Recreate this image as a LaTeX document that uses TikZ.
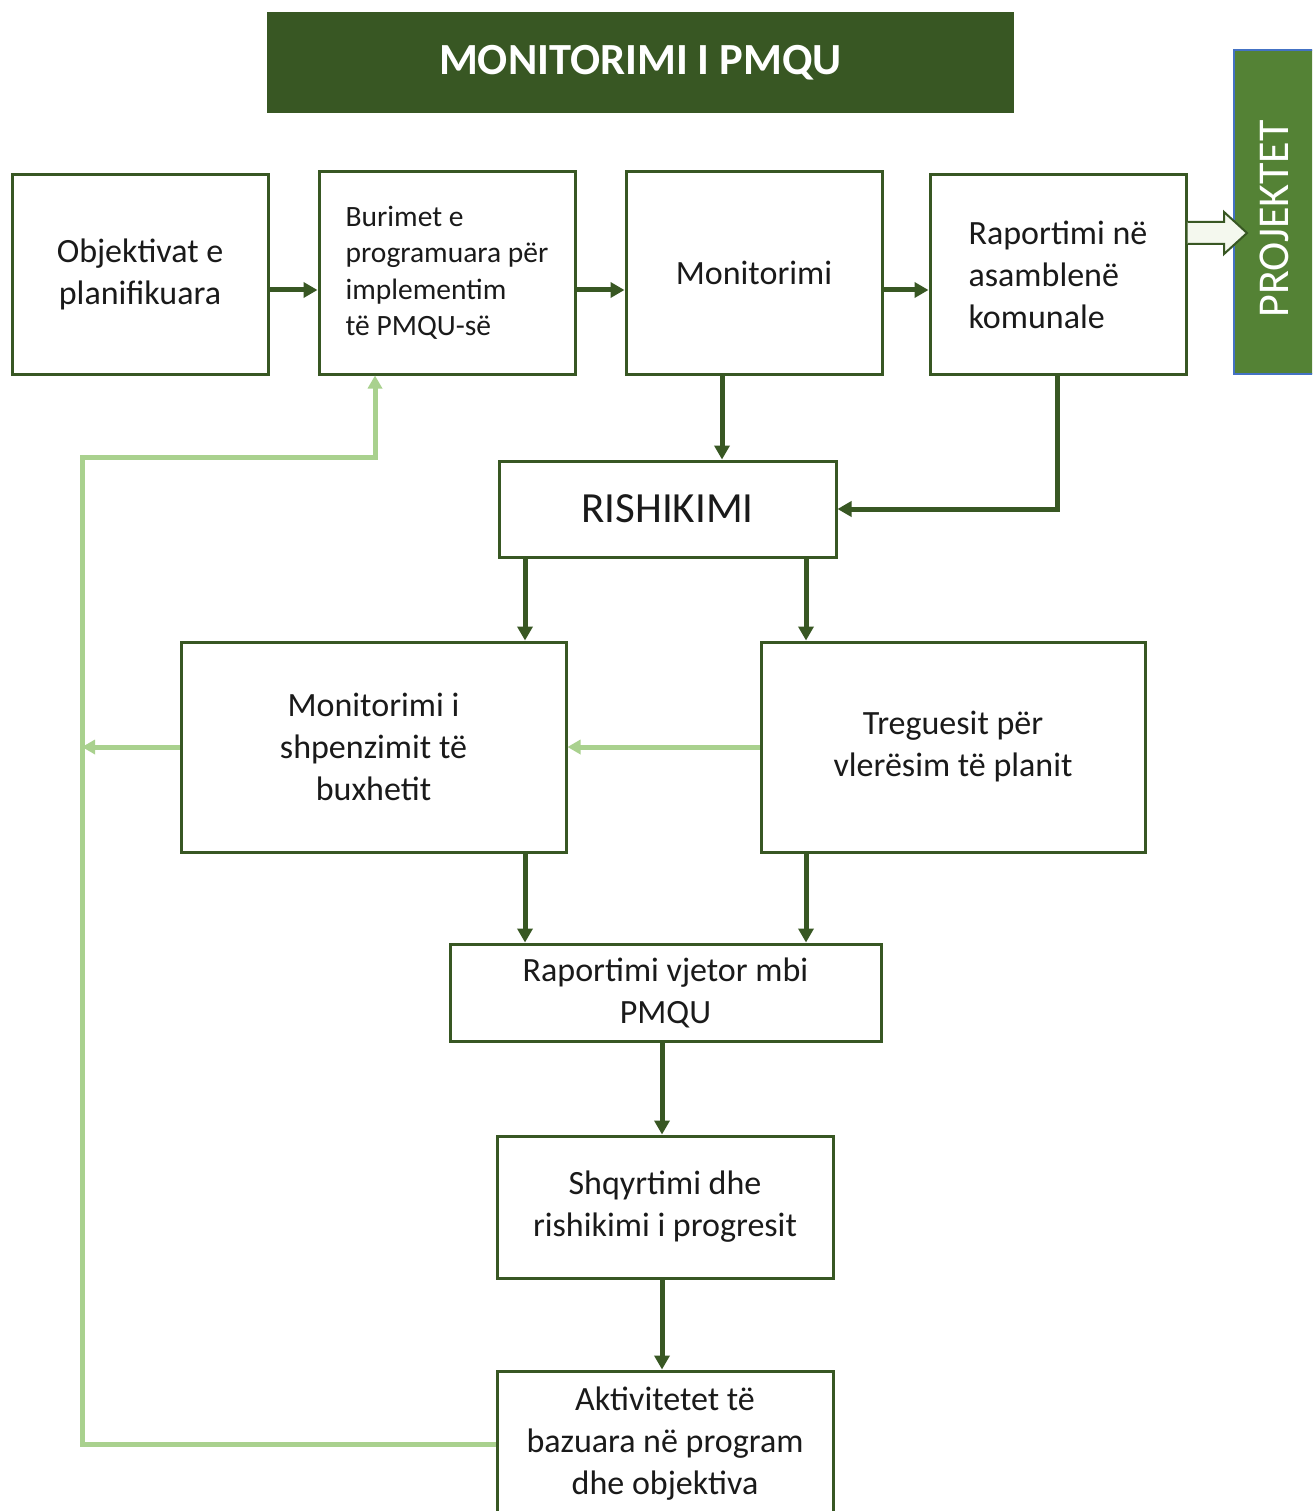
\documentclass[tikz,border=0pt]{standalone}
\usepackage{fontspec}
\setmainfont{Carlito}
\usetikzlibrary{arrows.meta,calc}
\definecolor{dg}{HTML}{385723}
\definecolor{mg}{HTML}{548235}
\definecolor{lg}{HTML}{A9D18E}
\definecolor{bl}{HTML}{4472C4}
\definecolor{tx}{HTML}{1A1A1A}
\definecolor{cream}{HTML}{F4F8EE}
\tikzset{
  box/.style={draw=dg, line width=3pt, fill=white, inner sep=0pt, align=center, text=tx,
    font=\fontsize{34}{42}\selectfont},
  darr/.style={draw=dg, line width=5pt, -{Triangle[length=14pt,width=15pt]}},
  larr/.style={draw=lg, line width=5pt, line join=miter, -{Triangle[length=13pt,width=14pt]}},
}
\begin{document}
\begin{tikzpicture}[x=1pt,y=-1pt]
\clip (0,0) rectangle (1312,1511);
\fill[white] (0,0) rectangle (1312,1511);

% title
\node[fill=dg, minimum width=747pt, minimum height=101pt, inner sep=0pt, text=white,
  font=\fontsize{44.5}{50}\selectfont\bfseries] (T) at (640.5,62.5) {MONITORIMI I PMQU};

% projektet
\node[draw=bl, line width=2pt, fill=mg, minimum width=80pt, minimum height=324pt,
  inner sep=0pt] (P) at (1274,212) {};
\node[rotate=90, inner sep=0pt, text=white, font=\fontsize{44}{48}\selectfont] (PT)
  at ($(P.center)+(0,7)$) {PROJEKTET};

% top row
\node[box, minimum width=256pt, minimum height=199pt] (A) at (140,274.5) {Objektivat e\\planifikuara};
\node[box, minimum width=256pt, minimum height=202pt, align=left,
  font=\fontsize{29.5}{36.5}\selectfont] (B) at (447,273) {Burimet e\\programuara për\\implementim\\të PMQU-së};
\node[box, minimum width=256pt, minimum height=202pt] (C) at (754,273) {Monitorimi};
\node[box, minimum width=256pt, minimum height=199pt, align=left] (D) at (1058,274.5) {Raportimi në\\asamblenë\\komunale};

% rishikimi
\node[box, minimum width=337pt, minimum height=96pt, font=\fontsize{43}{50}\selectfont] (R) at (667.5,509) {RISHIKIMI};

% middle
\node[box, minimum width=385pt, minimum height=210pt] (E) at (373.5,747) {Monitorimi i\\shpenzimit të\\buxhetit};
\node[box, minimum width=384pt, minimum height=210pt] (F) at (953,747) {Treguesit për\\vlerësim të planit};

% lower
\node[box, minimum width=431pt, minimum height=97pt] (G) at (665.5,992.5) {Raportimi vjetor mbi\\PMQU};
\node[box, minimum width=336pt, minimum height=142pt] (H) at (665,1207) {Shqyrtimi dhe\\rishikimi i progresit};
\node[box, minimum width=336pt, minimum height=146pt] (I) at (665,1444) {Aktivitetet të\\bazuara në program\\dhe objektiva};

% dark arrows
\draw[darr] (A.east |- 0,290) -- (B.west |- 0,290);
\draw[darr] (B.east |- 0,290) -- (C.west |- 0,290);
\draw[darr] (C.east |- 0,290) -- (D.west |- 0,290);
\draw[darr] (C.south -| 722,0) -- (R.north -| 722,0);
\draw[darr] (D.south -| 1057,0) |- (R.east);
\draw[darr] (R.south -| 525,0) -- (E.north -| 525,0);
\draw[darr] (R.south -| 806,0) -- (F.north -| 806,0);
\draw[darr] (E.south -| 525,0) -- (G.north -| 525,0);
\draw[darr] (F.south -| 806,0) -- (G.north -| 806,0);
\draw[darr] (G.south -| 662,0) -- (H.north -| 662,0);
\draw[darr] (H.south -| 662,0) -- (I.north -| 662,0);

% hollow arrow to projektet
\draw[draw=dg, line width=2pt, fill=cream, line join=miter]
  (D.east |- 0,222) -- (1224,222) -- (1224,212) -- (1247,233) -- (1224,254) -- (1224,244) -- (D.east |- 0,244);

% light green arrows
\coordinate (L1) at (82,457);
\draw[larr] (F.west) -- (E.east);
\draw[larr] (E.west) -- (82,747);
\draw[larr] (I.west) -| (L1) -| (B.south -| 375,0);
\end{tikzpicture}
\end{document}
